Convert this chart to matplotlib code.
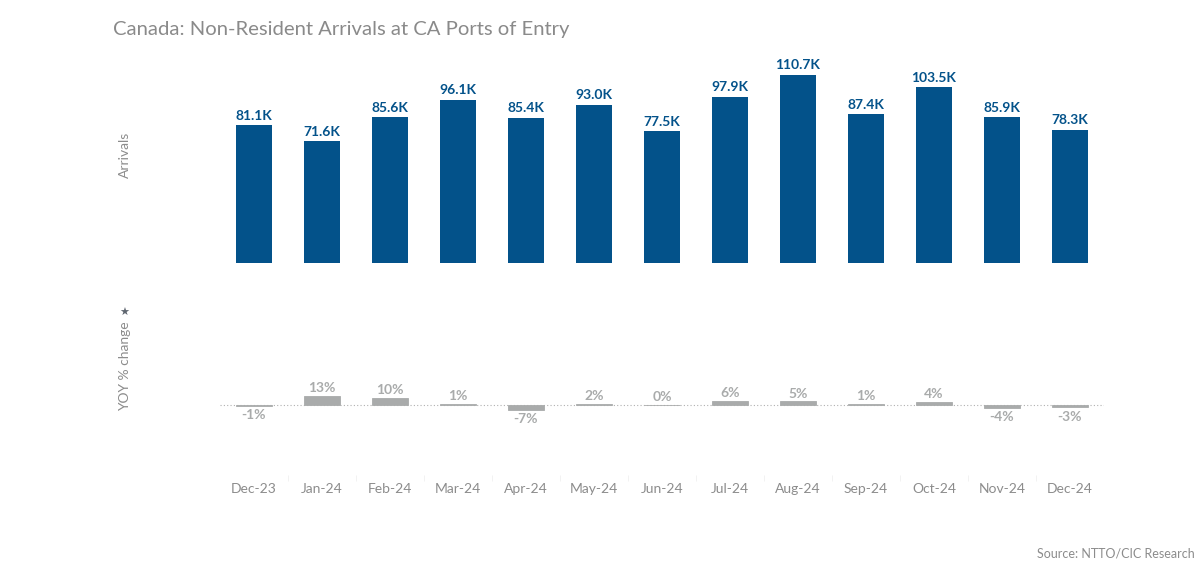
import matplotlib.pyplot as plt
import numpy as np

plt.rcParams['font.family'] = ['Lato', 'DejaVu Sans']

months = ['Dec-23', 'Jan-24', 'Feb-24', 'Mar-24', 'Apr-24', 'May-24', 'Jun-24',
          'Jul-24', 'Aug-24', 'Sep-24', 'Oct-24', 'Nov-24', 'Dec-24']
arrivals = [81.1, 71.6, 85.6, 96.1, 85.4, 93.0, 77.5, 97.9, 110.7, 87.4, 103.5, 85.9, 78.3]
yoy = [-1, 13, 10, 1, -7, 2, 0, 6, 5, 1, 4, -4, -3]

blue = '#03528a'
bar_gray = '#a9abab'
txt_gray = '#8c8c8c'

x = np.arange(len(months))

fig = plt.figure(figsize=(12, 5.75), dpi=100)

# top panel - arrivals
ax1 = fig.add_axes([220 / 1200, 1 - 263 / 575, 884 / 1200, 193 / 575])
ax1.bar(x, arrivals, width=0.53, color=blue)
for i, v in enumerate(arrivals):
    ax1.text(i, v + 2, f'{v:.1f}K', ha='center', va='bottom', color=blue,
             fontsize=10, fontweight='bold')
ax1.set_xlim(-0.5, len(months) - 0.5)
ax1.set_ylim(0, 113.5)
ax1.axis('off')

# bottom panel - yoy
ax2 = fig.add_axes([220 / 1200, 1 - 475 / 575, 884 / 1200, 185 / 575])
ax2.bar(x, yoy, width=0.53, color=bar_gray, edgecolor=bar_gray, linewidth=0.6)
ax2.axhline(0, color='#b0b0b0', lw=0.8, ls=(0, (1, 2)), zorder=0)
for i, v in enumerate(yoy):
    if v >= 0:
        ax2.text(i, v + 2.5, f'{v}%', ha='center', va='bottom', color=bar_gray,
                 fontsize=10, fontweight='bold')
    else:
        ax2.text(i, v - 5, f'{v}%', ha='center', va='top', color=bar_gray,
                 fontsize=10, fontweight='bold')
ax2.set_xlim(-0.5, len(months) - 0.5)
ax2.set_ylim(-100, 164)
for s in ax2.spines.values():
    s.set_visible(False)
ax2.set_yticks([])
ax2.set_xticks(x)
ax2.set_xticklabels(months, color=txt_gray, fontsize=10)
ax2.tick_params(axis='x', length=0, pad=6)
ax2.set_xticks(np.arange(0.5, len(months) - 1, 1), minor=True)
ax2.tick_params(axis='x', which='minor', length=4, color='#f0f0f0', pad=0)

fig.text(113 / 1200, 1 - 30 / 575, 'Canada: Non-Resident Arrivals at CA Ports of Entry',
         fontsize=14.6, color='#8a8a8a', va='center', ha='left')
fig.text(125 / 1200, 1 - 155 / 575, 'Arrivals', rotation=90, color=txt_gray,
         fontsize=10, ha='center', va='center')
fig.text(125 / 1200, 1 - 366 / 575, 'YOY % change', rotation=90, color=txt_gray,
         fontsize=10, ha='center', va='center')
fig.text(124 / 1200, 1 - 313 / 575, '\u2605', rotation=0, color='#5f6670',
         fontsize=8, ha='center', va='center', family='DejaVu Sans')
fig.text(1195 / 1200, 1 - 554 / 575, 'Source: NTTO/CIC Research', color=txt_gray,
         fontsize=9, ha='right', va='center')

fig.savefig('out.png', dpi=100)
